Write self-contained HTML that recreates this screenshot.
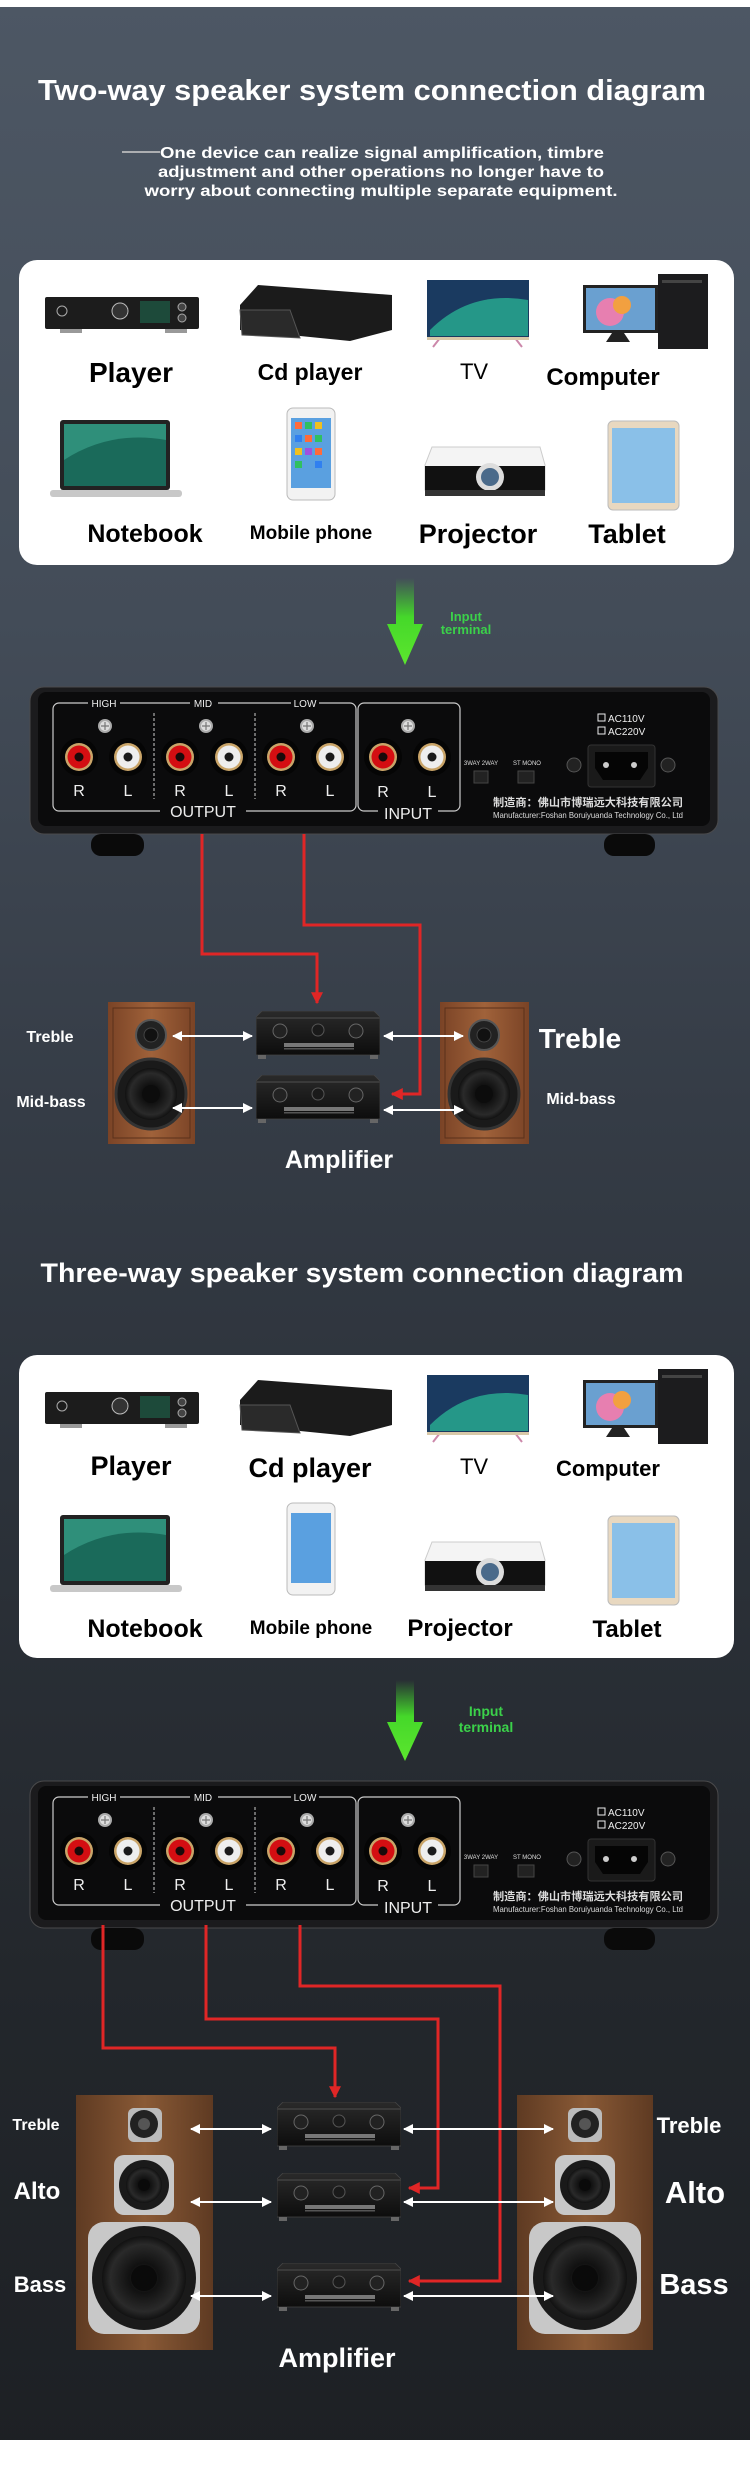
<!DOCTYPE html>
<html><head><meta charset="utf-8"><style>
html,body{margin:0;padding:0;background:#fff}
svg{display:block}
text{font-family:"Liberation Sans","Noto Sans CJK SC",sans-serif}
</style></head><body>
<svg width="750" height="2467" viewBox="0 0 750 2467" xmlns="http://www.w3.org/2000/svg">
<defs>
<linearGradient id="bg" x1="0" y1="0" x2="0" y2="1">
<stop offset="0" stop-color="#4d5764"/><stop offset="0.25" stop-color="#434c58"/>
<stop offset="0.45" stop-color="#353c46"/><stop offset="0.6" stop-color="#2c323a"/>
<stop offset="0.8" stop-color="#23272c"/><stop offset="1" stop-color="#1d2024"/>
</linearGradient>
<linearGradient id="garrow" x1="0" y1="0" x2="0" y2="1">
<stop offset="0" stop-color="#3fd42a" stop-opacity="0"/><stop offset="0.45" stop-color="#45d82a"/><stop offset="1" stop-color="#5ce62e"/>
</linearGradient>
<linearGradient id="wood" x1="0" y1="0" x2="1" y2="0">
<stop offset="0" stop-color="#7a4326"/><stop offset="0.5" stop-color="#a0623a"/><stop offset="1" stop-color="#7a4326"/>
</linearGradient>
<linearGradient id="wood2" x1="0" y1="0" x2="1" y2="0">
<stop offset="0" stop-color="#5e3a22"/><stop offset="0.5" stop-color="#8a5a36"/><stop offset="1" stop-color="#5e3a22"/>
</linearGradient>
<radialGradient id="cone"><stop offset="0" stop-color="#333"/><stop offset="0.35" stop-color="#111"/><stop offset="0.8" stop-color="#2a2a2a"/><stop offset="1" stop-color="#111"/></radialGradient>
<linearGradient id="ampg" x1="0" y1="0" x2="0" y2="1"><stop offset="0" stop-color="#2a2a2a"/><stop offset="1" stop-color="#0d0d0d"/></linearGradient>
<symbol id="amp" viewBox="0 0 124 48">
<path d="M6 0 H118 L124 6 V44 H0 V6 Z" fill="url(#ampg)" stroke="#444" stroke-width="0.8"/>
<rect x="0" y="6" width="124" height="2" fill="#3a3a3a"/>
<circle cx="24" cy="20" r="7" fill="#222" stroke="#666"/><circle cx="62" cy="19" r="6" fill="#1a1a1a" stroke="#555"/><circle cx="100" cy="20" r="7" fill="#222" stroke="#666"/>
<rect x="28" y="32" width="70" height="4" fill="#777"/><rect x="28" y="37" width="70" height="1.5" fill="#555"/>
<rect x="2" y="44" width="8" height="4" fill="#666"/><rect x="114" y="44" width="8" height="4" fill="#666"/>
</symbol>
<symbol id="jr" viewBox="-20 -20 40 40"><circle r="19" fill="#050505"/><circle r="14" fill="#c9a468"/><circle r="11.5" fill="#d40e12"/><circle r="4.5" fill="#1a0a0a"/></symbol>
<symbol id="jl" viewBox="-20 -20 40 40"><circle r="19" fill="#050505"/><circle r="14" fill="#c9a468"/><circle r="11.5" fill="#eeeeee"/><circle r="4.5" fill="#1a1a1a"/></symbol>
<symbol id="scr" viewBox="-8 -8 16 16"><circle r="7" fill="#aaa"/><circle r="5" fill="#ddd"/><path d="M-4 0H4M0-4V4" stroke="#777" stroke-width="1.2"/></symbol>
<marker id="ra" viewBox="0 0 10 10" refX="9" refY="5" markerWidth="4" markerHeight="4" orient="auto"><path d="M0 0L10 5L0 10Z" fill="#e02626"/></marker>
<marker id="wa" viewBox="0 0 10 10" refX="9" refY="5" markerWidth="5" markerHeight="5" orient="auto-start-reverse"><path d="M0 0L10 5L0 10Z" fill="#fff"/></marker>
</defs>

<rect width="750" height="2467" fill="url(#bg)"/>
<rect width="750" height="7" fill="#fff"/>
<rect y="2440" width="750" height="27" fill="#fff"/>

<!-- ===== Section 1 ===== -->
<text x="372" y="100" font-size="29" font-weight="bold" fill="#fff" text-anchor="middle" textLength="668" lengthAdjust="spacingAndGlyphs">Two-way speaker system connection diagram</text>
<line x1="122" y1="152" x2="160" y2="152" stroke="#ccc" stroke-width="1.5"/>
<g font-size="16" font-weight="bold" fill="#fff" text-anchor="middle">
<text x="382" y="158" textLength="444" lengthAdjust="spacingAndGlyphs">One device can realize signal amplification, timbre</text>
<text x="381" y="177" textLength="446" lengthAdjust="spacingAndGlyphs">adjustment and other operations no longer have to</text>
<text x="381" y="196" textLength="473" lengthAdjust="spacingAndGlyphs">worry about connecting multiple separate equipment.</text>
</g>

<g id="card1">
<rect x="19" y="260" width="715" height="305" rx="18" fill="#fff"/>
</g>
<rect x="19" y="1355" width="715" height="303" rx="18" fill="#fff"/>

<!-- device icons card1 -->
<g>
<rect x="45" y="297" width="154" height="32" rx="2" fill="#1c1c1c"/><circle cx="62" cy="311" r="5" fill="none" stroke="#aaa"/><circle cx="120" cy="311" r="8" fill="#333" stroke="#bbb"/><rect x="140" y="301" width="30" height="22" fill="#1d4a3a"/><circle cx="182" cy="307" r="4" fill="#444" stroke="#aaa"/><circle cx="182" cy="318" r="4" fill="#444" stroke="#aaa"/><rect x="60" y="329" width="22" height="4" fill="#999"/><rect x="165" y="329" width="22" height="4" fill="#999"/>
<path d="M258 285 L392 295 L392 330 L350 341 L240 330 L240 305 Z" fill="#1b1b1b"/><path d="M240 310 L290 310 L300 338 L242 335 Z" fill="#2a2a2a" stroke="#555"/>
<rect x="427" y="280" width="102" height="58" fill="#1a3a60"/><path d="M430 330 Q470 290 528 300 L528 336 L430 336Z" fill="#2bbf9a" opacity="0.7"/><path d="M440 338 L433 347 M515 338 L522 347" stroke="#c8a" stroke-width="2"/><rect x="427" y="337" width="102" height="3" fill="#d8c8a8"/>
<rect x="583" y="285" width="75" height="48" fill="#222"/><rect x="586" y="288" width="69" height="42" fill="#6aa0d0"/><circle cx="610" cy="312" r="14" fill="#e77fb0"/><circle cx="622" cy="305" r="9" fill="#f2a040"/><path d="M612 333 L606 342 L630 342 L624 333Z" fill="#222"/>
<rect x="658" y="274" width="50" height="75" fill="#1c1c1e"/><rect x="662" y="280" width="40" height="3" fill="#444"/>
<rect x="60" y="420" width="110" height="70" rx="3" fill="#222"/><rect x="64" y="424" width="102" height="62" fill="#2f8f7a"/><path d="M64 460 Q110 430 166 440 L166 486 L64 486Z" fill="#1a6a5a"/><rect x="50" y="490" width="132" height="7" rx="3" fill="#c8c8c8"/>
<rect x="287" y="408" width="48" height="92" rx="6" fill="#f2f2f2" stroke="#bbb"/><rect x="291" y="418" width="40" height="70" fill="#5aa0e0"/>
<g fill="#ff6b3a"><rect x="295" y="422" width="7" height="7"/><rect x="305" y="422" width="7" height="7" fill="#30c060"/><rect x="315" y="422" width="7" height="7" fill="#f0c020"/><rect x="295" y="435" width="7" height="7" fill="#3080f0"/><rect x="305" y="435" width="7" height="7"/><rect x="315" y="435" width="7" height="7" fill="#30c060"/><rect x="295" y="448" width="7" height="7" fill="#f0c020"/><rect x="305" y="448" width="7" height="7" fill="#a050e0"/><rect x="315" y="448" width="7" height="7"/><rect x="295" y="461" width="7" height="7" fill="#30c060"/><rect x="315" y="461" width="7" height="7" fill="#3080f0"/></g>
<path d="M432 447 L540 447 L545 465 L545 490 L425 490 L425 465Z" fill="#f4f4f4" stroke="#ccc"/><rect x="425" y="466" width="120" height="24" fill="#111"/><circle cx="490" cy="477" r="14" fill="#ddd"/><circle cx="490" cy="477" r="9" fill="#4a6a8a"/><rect x="425" y="490" width="120" height="6" fill="#333"/>
<rect x="608" y="421" width="71" height="89" rx="5" fill="#e8d8c0" stroke="#bbb"/><rect x="612" y="428" width="63" height="75" fill="#8ac0e8"/>
</g>
<g font-weight="bold" fill="#000" text-anchor="middle">
<text x="131" y="382" font-size="28">Player</text>
<text x="310" y="380" font-size="23">Cd player</text>
<text x="474" y="379" font-size="22" font-weight="normal">TV</text>
<text x="603" y="385" font-size="24">Computer</text>
<text x="145" y="542" font-size="25">Notebook</text>
<text x="311" y="539" font-size="19">Mobile phone</text>
<text x="478" y="543" font-size="27">Projector</text>
<text x="627" y="543" font-size="27">Tablet</text>
</g>

<!-- green arrow 1 -->
<path d="M396 578 H414 V624 H423 L405 665 L387 624 H396 Z" fill="url(#garrow)"/>
<text x="466" y="621" font-size="13" font-weight="bold" fill="#3bd14a" text-anchor="middle">Input</text>
<text x="466" y="634" font-size="13" font-weight="bold" fill="#3bd14a" text-anchor="middle">terminal</text>

<!-- panel 1 -->
<g>
<rect x="30" y="687" width="688" height="147" rx="14" fill="#1b1b1d" stroke="#4a4a4c"/>
<rect x="38" y="692" width="672" height="134" rx="8" fill="#0b0b0c"/>
<rect x="91" y="834" width="53" height="22" rx="10" fill="#0a0a0a"/><rect x="604" y="834" width="51" height="22" rx="10" fill="#0a0a0a"/>
<rect x="53" y="703" width="303" height="108" rx="6" fill="none" stroke="#ccc" stroke-width="1.2"/>
<rect x="358" y="703" width="102" height="108" rx="6" fill="none" stroke="#ccc" stroke-width="1.2"/>
<line x1="154" y1="713" x2="154" y2="799" stroke="#ccc" stroke-dasharray="3,2"/><line x1="255" y1="713" x2="255" y2="799" stroke="#ccc" stroke-dasharray="3,2"/>
<g fill="#0b0b0c"><rect x="88" y="698" width="32" height="10"/><rect x="190" y="698" width="28" height="10"/><rect x="291" y="698" width="28" height="10"/><rect x="160" y="805" width="86" height="12"/><rect x="378" y="805" width="60" height="12"/></g>
<g fill="#eee" font-size="10" text-anchor="middle"><text x="104" y="707">HIGH</text><text x="203" y="707">MID</text><text x="305" y="707">LOW</text></g>
<g fill="#eee" font-size="16" text-anchor="middle"><text x="203" y="817">OUTPUT</text><text x="408" y="819">INPUT</text>
<text x="79" y="796">R</text><text x="128" y="796">L</text><text x="180" y="796">R</text><text x="229" y="796">L</text><text x="281" y="796">R</text><text x="330" y="796">L</text><text x="383" y="797">R</text><text x="432" y="797">L</text></g>
<use href="#scr" x="97" y="718" width="16" height="16"/><use href="#scr" x="198" y="718" width="16" height="16"/><use href="#scr" x="299" y="718" width="16" height="16"/><use href="#scr" x="400" y="718" width="16" height="16"/>
<use href="#jr" x="59" y="737" width="40" height="40"/><use href="#jl" x="108" y="737" width="40" height="40"/><use href="#jr" x="160" y="737" width="40" height="40"/><use href="#jl" x="209" y="737" width="40" height="40"/><use href="#jr" x="261" y="737" width="40" height="40"/><use href="#jl" x="310" y="737" width="40" height="40"/><use href="#jr" x="363" y="737" width="40" height="40"/><use href="#jl" x="412" y="737" width="40" height="40"/>
<g fill="#ddd" font-size="6" text-anchor="middle"><text x="481" y="765">3WAY 2WAY</text><text x="527" y="765">ST   MONO</text></g>
<rect x="474" y="771" width="14" height="12" fill="#222" stroke="#444"/><rect x="518" y="771" width="16" height="12" fill="#222" stroke="#444"/>
<g fill="#eee" font-size="10"><rect x="598" y="714" width="7" height="7" fill="none" stroke="#eee"/><text x="608" y="722">AC110V</text><rect x="598" y="727" width="7" height="7" fill="none" stroke="#eee"/><text x="608" y="735">AC220V</text></g>
<rect x="588" y="745" width="67" height="42" rx="3" fill="#1a1a1a" stroke="#333"/><path d="M595 752 H648 V768 L640 780 H603 L595 768Z" fill="#050505"/><circle cx="606" cy="765" r="3" fill="#ccc"/><circle cx="634" cy="765" r="3" fill="#ccc"/>
<circle cx="574" cy="765" r="7" fill="#222" stroke="#555"/><circle cx="668" cy="765" r="7" fill="#222" stroke="#555"/>
<text x="588" y="806" font-size="11" font-weight="bold" fill="#ddd" text-anchor="middle" textLength="190" lengthAdjust="spacingAndGlyphs">制造商：佛山市博瑞远大科技有限公司</text>
<text x="588" y="818" font-size="8.5" fill="#ddd" text-anchor="middle" textLength="190" lengthAdjust="spacingAndGlyphs">Manufacturer:Foshan Boruiyuanda Technology Co., Ltd</text>
</g>

<!-- red lines 1 -->
<g fill="none" stroke="#e02626" stroke-width="3">
<polyline points="202,834 202,954 317,954 317,1003" marker-end="url(#ra)"/>
<polyline points="304,834 304,925 420,925 420,1094 392,1094" marker-end="url(#ra)"/>
</g>

<!-- speakers 2-way -->
<g>
<rect x="108" y="1002" width="87" height="142" fill="url(#wood)"/><rect x="113" y="1008" width="77" height="130" fill="none" stroke="#5a301a"/>
<circle cx="151" cy="1035" r="15" fill="#222" stroke="#555" stroke-width="2"/><circle cx="151" cy="1035" r="7" fill="#111" stroke="#444"/>
<circle cx="151" cy="1094" r="35" fill="#1a1a1a" stroke="#333" stroke-width="3"/><circle cx="151" cy="1094" r="26" fill="url(#cone)"/><circle cx="151" cy="1094" r="9" fill="#0c0c0c"/>
<rect x="440" y="1002" width="89" height="142" fill="url(#wood)"/><rect x="445" y="1008" width="79" height="130" fill="none" stroke="#5a301a"/>
<circle cx="484" cy="1035" r="15" fill="#222" stroke="#555" stroke-width="2"/><circle cx="484" cy="1035" r="7" fill="#111" stroke="#444"/>
<circle cx="484" cy="1094" r="35" fill="#1a1a1a" stroke="#333" stroke-width="3"/><circle cx="484" cy="1094" r="26" fill="url(#cone)"/><circle cx="484" cy="1094" r="9" fill="#0c0c0c"/>
</g>
<use href="#amp" x="256" y="1011" width="124" height="48"/><use href="#amp" x="256" y="1075" width="124" height="48"/>
<g stroke="#fff" stroke-width="2" marker-start="url(#wa)" marker-end="url(#wa)">
<line x1="173" y1="1036" x2="252" y2="1036"/><line x1="384" y1="1036" x2="463" y2="1036"/>
<line x1="173" y1="1108" x2="252" y2="1108"/><line x1="384" y1="1110" x2="463" y2="1110"/>
</g>
<g fill="#fff" font-weight="bold" text-anchor="middle">
<text x="50" y="1042" font-size="16">Treble</text><text x="51" y="1107" font-size="16">Mid-bass</text>
<text x="580" y="1048" font-size="28">Treble</text><text x="581" y="1104" font-size="16">Mid-bass</text>
<text x="339" y="1168" font-size="25">Amplifier</text>
</g>

<!-- ===== Section 2 ===== -->
<text x="362" y="1282" font-size="27" font-weight="bold" fill="#fff" text-anchor="middle" textLength="643" lengthAdjust="spacingAndGlyphs">Three-way speaker system connection diagram</text>

<g transform="translate(0,1095)">
<rect x="45" y="297" width="154" height="32" rx="2" fill="#1c1c1c"/><circle cx="62" cy="311" r="5" fill="none" stroke="#aaa"/><circle cx="120" cy="311" r="8" fill="#333" stroke="#bbb"/><rect x="140" y="301" width="30" height="22" fill="#1d4a3a"/><circle cx="182" cy="307" r="4" fill="#444" stroke="#aaa"/><circle cx="182" cy="318" r="4" fill="#444" stroke="#aaa"/><rect x="60" y="329" width="22" height="4" fill="#999"/><rect x="165" y="329" width="22" height="4" fill="#999"/>
<path d="M258 285 L392 295 L392 330 L350 341 L240 330 L240 305 Z" fill="#1b1b1b"/><path d="M240 310 L290 310 L300 338 L242 335 Z" fill="#2a2a2a" stroke="#555"/>
<rect x="427" y="280" width="102" height="58" fill="#1a3a60"/><path d="M430 330 Q470 290 528 300 L528 336 L430 336Z" fill="#2bbf9a" opacity="0.7"/><path d="M440 338 L433 347 M515 338 L522 347" stroke="#c8a" stroke-width="2"/><rect x="427" y="337" width="102" height="3" fill="#d8c8a8"/>
<rect x="583" y="285" width="75" height="48" fill="#222"/><rect x="586" y="288" width="69" height="42" fill="#6aa0d0"/><circle cx="610" cy="312" r="14" fill="#e77fb0"/><circle cx="622" cy="305" r="9" fill="#f2a040"/><path d="M612 333 L606 342 L630 342 L624 333Z" fill="#222"/>
<rect x="658" y="274" width="50" height="75" fill="#1c1c1e"/><rect x="662" y="280" width="40" height="3" fill="#444"/>
<rect x="60" y="420" width="110" height="70" rx="3" fill="#222"/><rect x="64" y="424" width="102" height="62" fill="#2f8f7a"/><path d="M64 460 Q110 430 166 440 L166 486 L64 486Z" fill="#1a6a5a"/><rect x="50" y="490" width="132" height="7" rx="3" fill="#c8c8c8"/>
<rect x="287" y="408" width="48" height="92" rx="6" fill="#f2f2f2" stroke="#bbb"/><rect x="291" y="418" width="40" height="70" fill="#5aa0e0"/>
<path d="M432 447 L540 447 L545 465 L545 490 L425 490 L425 465Z" fill="#f4f4f4" stroke="#ccc"/><rect x="425" y="466" width="120" height="24" fill="#111"/><circle cx="490" cy="477" r="14" fill="#ddd"/><circle cx="490" cy="477" r="9" fill="#4a6a8a"/><rect x="425" y="490" width="120" height="6" fill="#333"/>
<rect x="608" y="421" width="71" height="89" rx="5" fill="#e8d8c0" stroke="#bbb"/><rect x="612" y="428" width="63" height="75" fill="#8ac0e8"/>
<g font-weight="bold" fill="#000" text-anchor="middle">
<text x="131" y="380" font-size="27">Player</text>
<text x="310" y="382" font-size="27">Cd player</text>
<text x="474" y="379" font-size="22" font-weight="normal">TV</text>
<text x="608" y="381" font-size="22">Computer</text>
<text x="145" y="542" font-size="25">Notebook</text>
<text x="311" y="539" font-size="19">Mobile phone</text>
<text x="460" y="541" font-size="24">Projector</text>
<text x="627" y="542" font-size="24">Tablet</text>
</g>
</g>

<!-- green arrow 2 -->
<path d="M396 1680 H414 V1722 H423 L405 1761 L387 1722 H396 Z" fill="url(#garrow)"/>
<text x="486" y="1716" font-size="14" font-weight="bold" fill="#3bd14a" text-anchor="middle">Input</text>
<text x="486" y="1732" font-size="14" font-weight="bold" fill="#3bd14a" text-anchor="middle">terminal</text>

<!-- panel 2 -->
<g transform="translate(0,1094)">
<rect x="30" y="687" width="688" height="147" rx="14" fill="#1b1b1d" stroke="#4a4a4c"/>
<rect x="38" y="692" width="672" height="134" rx="8" fill="#0b0b0c"/>
<rect x="91" y="834" width="53" height="22" rx="10" fill="#0a0a0a"/><rect x="604" y="834" width="51" height="22" rx="10" fill="#0a0a0a"/>
<rect x="53" y="703" width="303" height="108" rx="6" fill="none" stroke="#ccc" stroke-width="1.2"/>
<rect x="358" y="703" width="102" height="108" rx="6" fill="none" stroke="#ccc" stroke-width="1.2"/>
<line x1="154" y1="713" x2="154" y2="799" stroke="#ccc" stroke-dasharray="3,2"/><line x1="255" y1="713" x2="255" y2="799" stroke="#ccc" stroke-dasharray="3,2"/>
<g fill="#0b0b0c"><rect x="88" y="698" width="32" height="10"/><rect x="190" y="698" width="28" height="10"/><rect x="291" y="698" width="28" height="10"/><rect x="160" y="805" width="86" height="12"/><rect x="378" y="805" width="60" height="12"/></g>
<g fill="#eee" font-size="10" text-anchor="middle"><text x="104" y="707">HIGH</text><text x="203" y="707">MID</text><text x="305" y="707">LOW</text></g>
<g fill="#eee" font-size="16" text-anchor="middle"><text x="203" y="817">OUTPUT</text><text x="408" y="819">INPUT</text>
<text x="79" y="796">R</text><text x="128" y="796">L</text><text x="180" y="796">R</text><text x="229" y="796">L</text><text x="281" y="796">R</text><text x="330" y="796">L</text><text x="383" y="797">R</text><text x="432" y="797">L</text></g>
<use href="#scr" x="97" y="718" width="16" height="16"/><use href="#scr" x="198" y="718" width="16" height="16"/><use href="#scr" x="299" y="718" width="16" height="16"/><use href="#scr" x="400" y="718" width="16" height="16"/>
<use href="#jr" x="59" y="737" width="40" height="40"/><use href="#jl" x="108" y="737" width="40" height="40"/><use href="#jr" x="160" y="737" width="40" height="40"/><use href="#jl" x="209" y="737" width="40" height="40"/><use href="#jr" x="261" y="737" width="40" height="40"/><use href="#jl" x="310" y="737" width="40" height="40"/><use href="#jr" x="363" y="737" width="40" height="40"/><use href="#jl" x="412" y="737" width="40" height="40"/>
<g fill="#ddd" font-size="6" text-anchor="middle"><text x="481" y="765">3WAY 2WAY</text><text x="527" y="765">ST   MONO</text></g>
<rect x="474" y="771" width="14" height="12" fill="#222" stroke="#444"/><rect x="518" y="771" width="16" height="12" fill="#222" stroke="#444"/>
<g fill="#eee" font-size="10"><rect x="598" y="714" width="7" height="7" fill="none" stroke="#eee"/><text x="608" y="722">AC110V</text><rect x="598" y="727" width="7" height="7" fill="none" stroke="#eee"/><text x="608" y="735">AC220V</text></g>
<rect x="588" y="745" width="67" height="42" rx="3" fill="#1a1a1a" stroke="#333"/><path d="M595 752 H648 V768 L640 780 H603 L595 768Z" fill="#050505"/><circle cx="606" cy="765" r="3" fill="#ccc"/><circle cx="634" cy="765" r="3" fill="#ccc"/>
<circle cx="574" cy="765" r="7" fill="#222" stroke="#555"/><circle cx="668" cy="765" r="7" fill="#222" stroke="#555"/>
<text x="588" y="806" font-size="11" font-weight="bold" fill="#ddd" text-anchor="middle" textLength="190" lengthAdjust="spacingAndGlyphs">制造商：佛山市博瑞远大科技有限公司</text>
<text x="588" y="818" font-size="8.5" fill="#ddd" text-anchor="middle" textLength="190" lengthAdjust="spacingAndGlyphs">Manufacturer:Foshan Boruiyuanda Technology Co., Ltd</text>
</g>

<!-- speakers 3-way -->
<g>
<rect x="76" y="2095" width="137" height="255" fill="url(#wood2)"/>
<rect x="128" y="2108" width="34" height="34" rx="6" fill="#bbb"/><circle cx="144" cy="2124" r="14" fill="#222"/><circle cx="144" cy="2124" r="6" fill="#555"/>
<rect x="114" y="2155" width="60" height="60" rx="10" fill="#c8c8c8"/><circle cx="144" cy="2185" r="25" fill="#1a1a1a"/><circle cx="144" cy="2185" r="18" fill="url(#cone)"/><circle cx="144" cy="2185" r="6" fill="#0a0a0a"/>
<rect x="88" y="2222" width="112" height="112" rx="16" fill="#c8c8c8"/><circle cx="144" cy="2278" r="52" fill="#1a1a1a"/><circle cx="144" cy="2278" r="42" fill="url(#cone)"/><circle cx="144" cy="2278" r="13" fill="#0a0a0a"/>
<rect x="517" y="2095" width="136" height="255" fill="url(#wood2)"/>
<rect x="568" y="2108" width="34" height="34" rx="6" fill="#bbb"/><circle cx="585" cy="2124" r="14" fill="#222"/><circle cx="585" cy="2124" r="6" fill="#555"/>
<rect x="555" y="2155" width="60" height="60" rx="10" fill="#c8c8c8"/><circle cx="585" cy="2185" r="25" fill="#1a1a1a"/><circle cx="585" cy="2185" r="18" fill="url(#cone)"/><circle cx="585" cy="2185" r="6" fill="#0a0a0a"/>
<rect x="529" y="2222" width="112" height="112" rx="16" fill="#c8c8c8"/><circle cx="585" cy="2278" r="52" fill="#1a1a1a"/><circle cx="585" cy="2278" r="42" fill="url(#cone)"/><circle cx="585" cy="2278" r="13" fill="#0a0a0a"/>
</g>

<!-- red lines 2 -->
<g fill="none" stroke="#e02626" stroke-width="3">
<polyline points="103,1925 103,2048 335,2048 335,2097" marker-end="url(#ra)"/>
<polyline points="206,1925 206,2019 438,2019 438,2188 409,2188" marker-end="url(#ra)"/>
<polyline points="300,1925 300,1986 500,1986 500,2281 409,2281" marker-end="url(#ra)"/>
</g>

<use href="#amp" x="277" y="2102" width="124" height="48"/><use href="#amp" x="277" y="2173" width="124" height="48"/><use href="#amp" x="277" y="2263" width="124" height="48"/>
<g stroke="#fff" stroke-width="2" marker-start="url(#wa)" marker-end="url(#wa)">
<line x1="191" y1="2129" x2="271" y2="2129"/><line x1="404" y1="2129" x2="553" y2="2129"/>
<line x1="191" y1="2202" x2="271" y2="2202"/><line x1="404" y1="2202" x2="553" y2="2202"/>
<line x1="191" y1="2296" x2="271" y2="2296"/><line x1="404" y1="2296" x2="553" y2="2296"/>
</g>
<g fill="#fff" font-weight="bold" text-anchor="middle">
<text x="36" y="2130" font-size="16">Treble</text><text x="37" y="2199" font-size="24">Alto</text><text x="40" y="2292" font-size="22">Bass</text>
<text x="689" y="2133" font-size="22">Treble</text><text x="695" y="2203" font-size="31">Alto</text><text x="694" y="2294" font-size="29">Bass</text>
<text x="337" y="2367" font-size="27">Amplifier</text>
</g>
</svg>
</body></html>
